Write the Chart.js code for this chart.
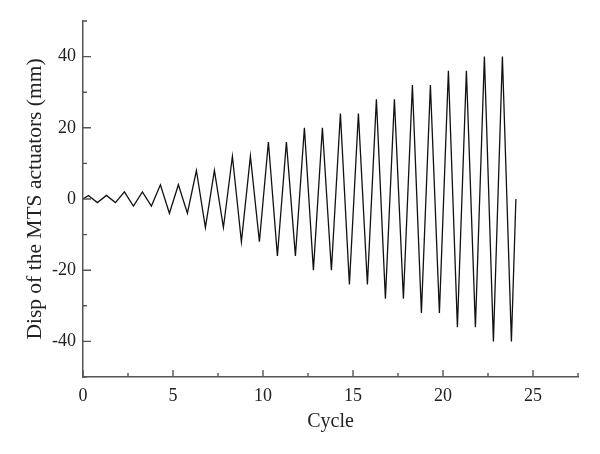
<!DOCTYPE html>
<html>
<head>
<meta charset="utf-8">
<script src="https://cdn.jsdelivr.net/npm/chart.js@4.4.0/dist/chart.umd.min.js"></script>
<style>
  html, body { margin:0; padding:0; background:#fff; }
  #wrap { width:600px; height:454px; }
</style>
</head>
<body>
<div id="wrap"><canvas id="cycleChart" width="600" height="454"></canvas></div>
<script>
// loading protocol: MTS actuator displacement vs cycle
const cycleX = [0, 0.3, 0.8, 1.3, 1.8, 2.3, 2.8, 3.3, 3.8, 4.3, 4.8, 5.3, 5.8, 6.3, 6.8, 7.3, 7.8,
  8.3, 8.8, 9.3, 9.8, 10.3, 10.8, 11.3, 11.8, 12.3, 12.8, 13.3, 13.8, 14.3, 14.8, 15.3, 15.8,
  16.3, 16.8, 17.3, 17.8, 18.3, 18.8, 19.3, 19.8, 20.3, 20.8, 21.3, 21.8, 22.3, 22.8, 23.3, 23.8, 24.05];
const disp = [0, 1, -1, 1, -1, 2, -2, 2, -2, 4, -4, 4, -4, 8, -8, 8, -8,
  12, -12, 12, -12, 16, -16, 16, -16, 20, -20, 20, -20, 24, -24, 24, -24,
  28, -28, 28, -28, 32, -32, 32, -32, 36, -36, 36, -36, 40, -40, 40, -40, 0];

const xTicks = [0, 5, 10, 15, 20, 25];
const xMinor = [2.5, 7.5, 12.5, 17.5, 22.5, 27.5];
const yTicks = [-40, -20, 0, 20, 40];
const yMinor = [-50, -30, -10, 10, 30, 50];

const FONT = "'Liberation Serif', 'DejaVu Serif', serif";
const AXIS = '#555';

// inward tick marks (major + minor)
const inwardTicks = {
  id: 'inwardTicks',
  afterDraw(chart){
    const ctx = chart.ctx, xs = chart.scales.x, ys = chart.scales.y;
    const area = chart.chartArea;
    ctx.save();
    ctx.strokeStyle = AXIS;
    ctx.lineWidth = 1.4;
    ctx.beginPath();
    xTicks.forEach(v=>{ const px = xs.getPixelForValue(v); ctx.moveTo(px, area.bottom); ctx.lineTo(px, area.bottom - 7); });
    xMinor.forEach(v=>{ const px = xs.getPixelForValue(v); ctx.moveTo(px, area.bottom); ctx.lineTo(px, area.bottom - 4); });
    yTicks.forEach(v=>{ const py = ys.getPixelForValue(v); ctx.moveTo(area.left, py); ctx.lineTo(area.left + 8, py); });
    yMinor.forEach(v=>{ const py = ys.getPixelForValue(v); ctx.moveTo(area.left, py); ctx.lineTo(area.left + 4, py); });
    ctx.stroke();
    ctx.restore();
  }
};

new Chart(document.getElementById('cycleChart'), {
  type: 'line',
  data: {
    datasets: [{
      data: cycleX.map((x, i) => ({ x, y: disp[i] })),
      borderColor: '#111',
      borderWidth: 1.3,
      pointRadius: 0,
      tension: 0,
      fill: false
    }]
  },
  options: {
    responsive: false,
    animation: false,
    layout: { padding: { top: 21, right: 22, left: 0, bottom: 0 } },
    plugins: { legend: { display: false }, tooltip: { enabled: false } },
    scales: {
      x: {
        type: 'linear',
        min: 0, max: 27.5,
        afterBuildTicks: s => { s.ticks = xTicks.map(v => ({ value: v })); },
        afterFit: s => { s.height = 77; },
        grid: { display: false, drawTicks: false },
        border: { color: AXIS, width: 1.5 },
        ticks: { color: '#222', padding: 8, font: { family: FONT, size: 18 } },
        title: { display: true, text: 'Cycle', color: '#222', padding: { top: 0, bottom: 20 },
                 font: { family: FONT, size: 20 } }
      },
      y: {
        type: 'linear',
        min: -50, max: 50,
        afterBuildTicks: s => { s.ticks = yTicks.map(v => ({ value: v })); },
        afterFit: s => { s.width = 83; },
        grid: { display: false, drawTicks: false },
        border: { color: AXIS, width: 1.5 },
        ticks: { color: '#222', padding: 7, font: { family: FONT, size: 18 } },
        title: { display: true, text: 'Disp of the MTS actuators (mm)', color: '#222',
                 padding: { top: 22, bottom: 0 }, font: { family: FONT, size: 21.5 } }
      }
    }
  },
  plugins: [inwardTicks]
});
</script>
</body>
</html>
